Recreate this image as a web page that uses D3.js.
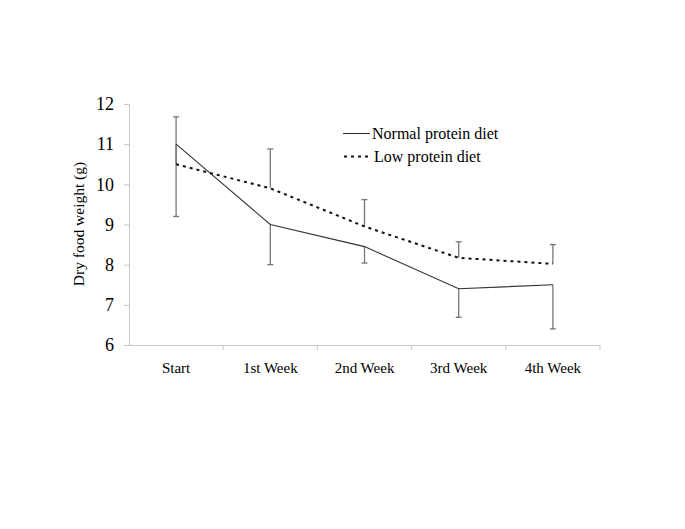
<!DOCTYPE html>
<html><head><meta charset="utf-8">
<script src="https://cdn.jsdelivr.net/npm/d3@7"></script>
<style>body{margin:0;background:#fff}</style>
</head><body>
<svg id="c" width="685" height="529"></svg>
<script>
const categories = ["Start","1st Week","2nd Week","3rd Week","4th Week"];
const normalDiet = [11.0, 9.0, 8.45, 7.4, 7.5];
const normalErrMinus = [1.8, 1.0, 0.41, 0.71, 1.1];
const lowDiet = [10.5, 9.9, 8.95, 8.17, 8.02];
const lowErrPlus = [1.18, 0.98, 0.67, 0.4, 0.48];
const yTicks = [6,7,8,9,10,11,12];
const seriesNames = ["Normal protein diet","Low protein diet"];

(function(){
const svg = d3.select("#c");
const font = "'Liberation Serif','Times New Roman',serif";
const mLeft = 129, mRight = 600, mTop = 104, mBottom = 345;

const x = d3.scaleBand().domain(categories).range([mLeft, mRight]);
const y = d3.scaleLinear().domain([6, 12]).range([mBottom, mTop]);

// y axis
const ya = svg.append("g").attr("transform", `translate(${mLeft},0)`)
  .call(d3.axisLeft(y).tickValues(yTicks).tickSize(5).tickPadding(10).tickFormat(d3.format("d")));
ya.selectAll("path,line").attr("stroke", "#c8c8c8");
ya.selectAll("text").attr("font-family", font).attr("font-size", 18).attr("fill", "#000");

// x axis
const xa = svg.append("g").attr("transform", `translate(0,${mBottom})`)
  .call(d3.axisBottom(x).tickSize(0).tickPadding(17));
xa.select("path").attr("stroke", "#c8c8c8");
xa.selectAll("text").attr("font-family", font).attr("font-size", 15).attr("fill", "#000");
// boundary ticks
xa.selectAll(".bt").data(categories).enter().append("line")
  .attr("x1", (d,i) => mLeft + x.step()*(i+1)).attr("x2", (d,i) => mLeft + x.step()*(i+1))
  .attr("y1", 0).attr("y2", 5).attr("stroke", "#c8c8c8");

// axis title
svg.append("text").attr("transform", `translate(84,224) rotate(-90)`)
  .attr("text-anchor", "middle").attr("font-family", font).attr("font-size", 15.5)
  .text("Dry food weight (g)");

const cx = d => x(d) + x.bandwidth()/2;

// error bars
const eb = svg.append("g").attr("stroke", "#777").attr("stroke-width", 1.3);
categories.forEach((c, i) => {
  const px = cx(c);
  const y0 = y(normalDiet[i]), y1 = y(normalDiet[i] - normalErrMinus[i]);
  eb.append("line").attr("x1", px).attr("x2", px).attr("y1", y0).attr("y2", y1);
  eb.append("line").attr("x1", px-3).attr("x2", px+3).attr("y1", y1).attr("y2", y1);
  const y2 = y(lowDiet[i]), y3 = y(lowDiet[i] + lowErrPlus[i]);
  eb.append("line").attr("x1", px).attr("x2", px).attr("y1", y2).attr("y2", y3);
  eb.append("line").attr("x1", px-3).attr("x2", px+3).attr("y1", y3).attr("y2", y3);
});

const line = d3.line().x((d,i) => cx(categories[i])).y(d => y(d));
svg.append("path").datum(normalDiet).attr("d", line).attr("fill", "none")
  .attr("stroke", "#333").attr("stroke-width", 1.1);
svg.append("path").datum(lowDiet).attr("d", line).attr("fill", "none")
  .attr("stroke", "#111").attr("stroke-width", 2).attr("stroke-dasharray", "3,4");

// legend
const lg = svg.append("g");
lg.append("line").attr("x1", 343).attr("x2", 370).attr("y1", 133.5).attr("y2", 133.5)
  .attr("stroke", "#333").attr("stroke-width", 1.1);
lg.append("text").attr("x", 372).attr("y", 139).attr("font-family", font).attr("font-size", 16)
  .text(seriesNames[0]);
lg.append("line").attr("x1", 344).attr("x2", 371).attr("y1", 156.5).attr("y2", 156.5)
  .attr("stroke", "#111").attr("stroke-width", 2).attr("stroke-dasharray", "3,4");
lg.append("text").attr("x", 374).attr("y", 162).attr("font-family", font).attr("font-size", 16)
  .text(seriesNames[1]);
})();
</script>
</body></html>
